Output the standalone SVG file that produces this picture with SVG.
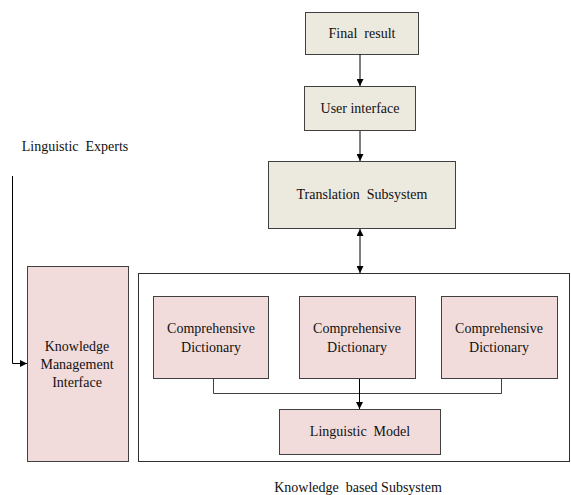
<svg xmlns="http://www.w3.org/2000/svg" width="571" height="495" viewBox="0 0 571 495">
  <defs>
    <marker id="arr" viewBox="0 0 10 10" refX="10" refY="5" markerWidth="7" markerHeight="7" orient="auto-start-reverse" markerUnits="userSpaceOnUse">
      <path d="M0,0 L10,5 L0,10 z" fill="#000"/>
    </marker>
    <style>
      .box { stroke: #404040; stroke-width: 1; }
      .beige { fill: #ECE9DF; }
      .pink { fill: #F2DCDB; }
      .frame { fill: #fff; stroke: #303030; stroke-width: 1; }
      .lbl { font-family: "Liberation Serif", "DejaVu Serif", serif; font-size: 14px; fill: #111; text-anchor: middle; white-space: pre; }
      .edge { fill: none; stroke: #000; stroke-width: 1; }
      .tree { fill: none; stroke: #404040; stroke-width: 1; }
    </style>
  </defs>
  <rect width="571" height="495" fill="#fff"/>

  <!-- knowledge based subsystem frame -->
  <g id="knowledge-subsystem">
    <rect class="frame" x="138.5" y="273.5" width="431" height="188"/>
    <text class="lbl" x="358" y="492" xml:space="preserve">Knowledge  based Subsystem</text>
  </g>

  <g id="final-result">
    <rect class="box beige" x="305.5" y="12.5" width="113" height="42"/>
    <text class="lbl" x="362" y="38" xml:space="preserve">Final  result</text>
  </g>
  <g id="user-interface">
    <rect class="box beige" x="304.5" y="86.5" width="111" height="44"/>
    <text class="lbl" x="360" y="113">User interface</text>
  </g>
  <g id="translation-subsystem">
    <rect class="box beige" x="268.5" y="161.5" width="187" height="67"/>
    <text class="lbl" x="362" y="199" xml:space="preserve">Translation  Subsystem</text>
  </g>

  <g id="dict-1">
    <rect class="box pink" x="153.5" y="296.5" width="115" height="82"/>
    <text class="lbl" x="211" y="333">Comprehensive</text>
    <text class="lbl" x="211" y="352">Dictionary</text>
  </g>
  <g id="dict-2">
    <rect class="box pink" x="299.5" y="296.5" width="116" height="82"/>
    <text class="lbl" x="357" y="333">Comprehensive</text>
    <text class="lbl" x="357" y="352">Dictionary</text>
  </g>
  <g id="dict-3">
    <rect class="box pink" x="441.5" y="296.5" width="116" height="82"/>
    <text class="lbl" x="499" y="333">Comprehensive</text>
    <text class="lbl" x="499" y="352">Dictionary</text>
  </g>
  <g id="linguistic-model">
    <rect class="box pink" x="279.5" y="409.5" width="161" height="45"/>
    <text class="lbl" x="360" y="436" xml:space="preserve">Linguistic  Model</text>
  </g>

  <g id="kmi">
    <rect class="box pink" x="27.5" y="266.5" width="101" height="195"/>
    <text class="lbl" x="77" y="351">Knowledge</text>
    <text class="lbl" x="77" y="369">Management</text>
    <text class="lbl" x="77" y="387">Interface</text>
  </g>

  <g id="linguistic-experts">
    <text class="lbl" x="75" y="151" xml:space="preserve">Linguistic  Experts</text>
  </g>

  <!-- connectors -->
  <g id="connectors">
    <line class="edge" x1="360" y1="54" x2="360" y2="86" marker-end="url(#arr)"/>
    <line class="edge" x1="360" y1="131" x2="360" y2="161" marker-end="url(#arr)"/>
    <line class="edge" x1="360" y1="229" x2="360" y2="273" marker-start="url(#arr)" marker-end="url(#arr)"/>
    <polyline class="tree" points="213.5,379 213.5,393.5 501.5,393.5 501.5,379"/>
    <line class="edge" x1="359.5" y1="379" x2="359.5" y2="409" marker-end="url(#arr)"/>
    <polyline class="edge" points="12.5,176 12.5,363.5 27,363.5" marker-end="url(#arr)"/>
  </g>
</svg>
